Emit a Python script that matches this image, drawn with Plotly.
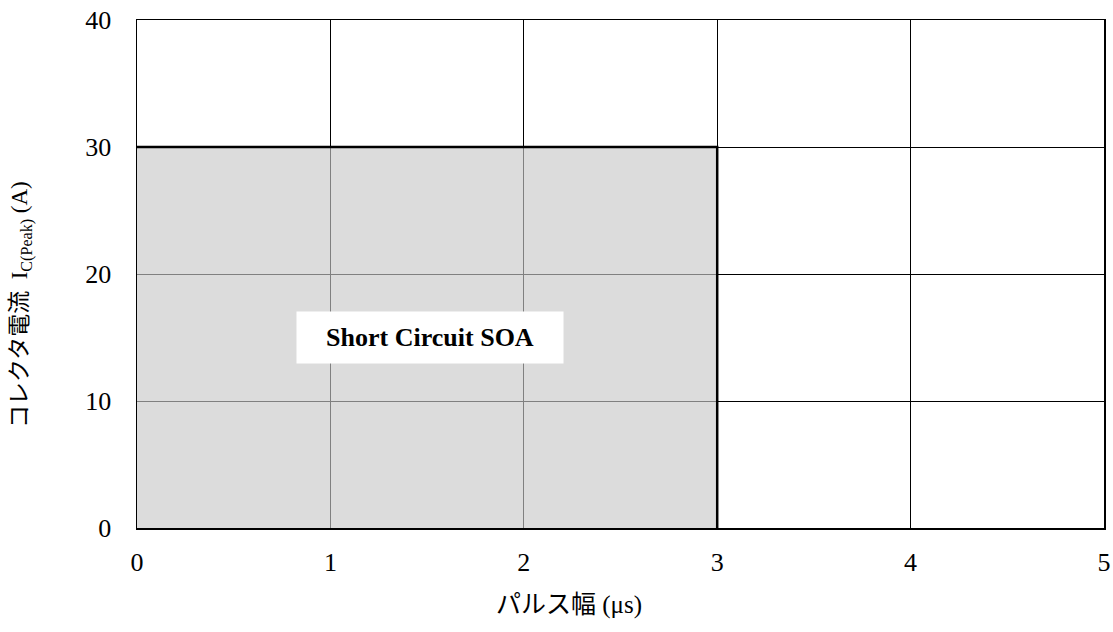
import plotly.graph_objects as go

x_ticks = [0, 1, 2, 3, 4, 5]
y_ticks = [0, 10, 20, 30, 40]
soa_fill_x = [0, 0, 3, 3]
soa_fill_y = [0, 30, 30, 0]
soa_edge_x = [0, 3, 3]
soa_edge_y = [30, 30, 0]
label_text = "Short Circuit SOA"
label_pos = (1.515, 15)
x_title = "パルス幅 (μs)"
y_title = "コレクタ電流  I<sub>C(Peak)</sub> (A)"

SERIF = "Liberation Serif, Noto Sans CJK JP, serif"

fig = go.Figure()
fig.add_trace(go.Scatter(x=soa_fill_x, y=soa_fill_y, fill="toself",
                         fillcolor="rgba(201,201,201,0.64)", mode="none",
                         hoverinfo="skip", showlegend=False))
fig.add_trace(go.Scatter(x=soa_edge_x, y=soa_edge_y, mode="lines",
                         line=dict(color="black", width=2.5),
                         hoverinfo="skip", showlegend=False))

fig.add_annotation(x=label_pos[0], y=label_pos[1], text="<b>" + label_text + "</b>",
                   showarrow=False, bgcolor="white", width=254, height=39, borderpad=6,
                   font=dict(family=SERIF, size=26, color="black"))

fig.add_annotation(xref="paper", yref="paper", x=0.447, y=-0.152, text=x_title,
                   showarrow=False, xanchor="center", yanchor="middle",
                   font=dict(family=SERIF, size=25, color="black"))
fig.add_annotation(xref="paper", yref="paper", x=-0.119, y=0.441, text=y_title,
                   showarrow=False, xanchor="center", yanchor="middle", textangle=-90,
                   font=dict(family=SERIF, size=23, color="black"))

fig.update_layout(
    width=1113, height=632,
    margin=dict(l=137, r=9, t=20, b=104, autoexpand=False),
    plot_bgcolor="white", paper_bgcolor="white",
    font=dict(family=SERIF, size=26, color="black"),
    xaxis=dict(range=[0, 5], tickvals=x_ticks, showgrid=True, gridcolor="black",
               gridwidth=1, showline=True, linecolor="black", linewidth=1.5, mirror=True,
               zeroline=False, ticks="", ticklabelstandoff=10, automargin=False,
               ticklabeloverflow="allow", tickfont=dict(family=SERIF, size=26)),
    yaxis=dict(range=[0, 40], tickvals=y_ticks, showgrid=True, gridcolor="black",
               gridwidth=1, showline=True, linecolor="black", linewidth=1.5, mirror=True,
               zeroline=False, ticks="", ticklabelstandoff=19, automargin=False,
               ticklabeloverflow="allow", tickfont=dict(family=SERIF, size=26)),
)

fig.write_html("out.html", config={"displayModeBar": False, "staticPlot": True},
               post_script="document.body.style.margin='0';document.body.style.overflow='hidden';")
